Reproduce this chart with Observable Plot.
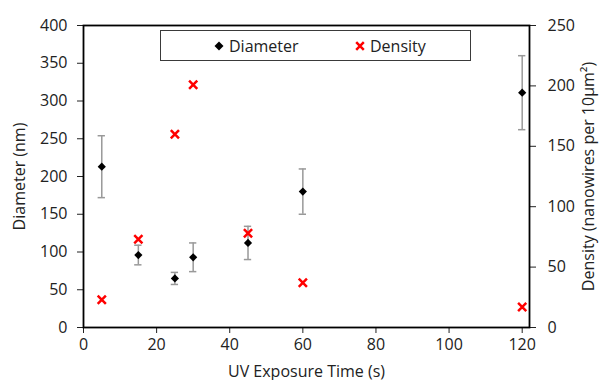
<!DOCTYPE html>
<html>
<head>
<meta charset="utf-8">
<script src="https://cdn.jsdelivr.net/npm/d3@7"></script>
<script src="https://cdn.jsdelivr.net/npm/@observablehq/plot@0.6"></script>
<style>
  body { margin: 0; background: #fff; }
  #wrap { position: relative; width: 603px; height: 380px; font-family: "Open Sans", sans-serif; }
  #legend {
    position: absolute; left: 160px; top: 30px; width: 311px; height: 31px;
    box-sizing: border-box; border: 1.5px solid #3a3a3a; background: #fff;
    display: flex; align-items: center; font-size: 16px; color: #222;
  }
  .item { display: flex; align-items: center; position: absolute; }
  .item svg { margin-right: 4px; }
</style>
</head>
<body>
<div id="wrap">
  <div id="chart"></div>
  <div id="legend">
    <div class="item" style="left:52px"><svg width="12" height="12" viewBox="-6 -6 12 12"><path d="M0,-4.5L4.5,0L0,4.5L-4.5,0Z" fill="#000"/></svg><span>Diameter</span></div>
    <div class="item" style="left:193px"><svg width="12" height="12" viewBox="-6 -6 12 12"><path d="M-3.8,-3.8L3.8,3.8M-3.8,3.8L3.8,-3.8" stroke="#ff0000" stroke-width="2.5"/></svg><span>Density</span></div>
  </div>
</div>
<script>
// Data
const timeS = [5, 15, 25, 30, 45, 60, 120];
const diameterNm = [213, 96, 65, 93, 112, 180, 311];
const diameterErr = [41, 13, 8, 19, 22, 30, 49];
const densityPer10um2 = [23, 73, 160, 201, 78, 37, 17];

const xTicks = [0, 20, 40, 60, 80, 100, 120];
const leftTicks = [0, 50, 100, 150, 200, 250, 300, 350, 400];
const rightTicks = [0, 50, 100, 150, 200, 250];

const leftMax = 400, rightMax = 250;
const k = leftMax / rightMax;

const rows = timeS.map((t, i) => ({
  t,
  d: diameterNm[i],
  lo: diameterNm[i] - diameterErr[i],
  hi: diameterNm[i] + diameterErr[i],
  dens: densityPer10um2[i] * k
}));
const caps = rows.flatMap(r => [{t: r.t, y: r.lo}, {t: r.t, y: r.hi}]);

const chart = Plot.plot({
  width: 603,
  height: 380,
  marginLeft: 83,
  marginRight: 74,
  marginTop: 25,
  marginBottom: 53,
  style: { fontFamily: "Open Sans", fontSize: "16px", color: "#222", background: "transparent" },
  x: { domain: [0, 122] },
  y: { domain: [0, leftMax] },
  marks: [
    Plot.axisX({ ticks: xTicks, tickSize: 6, tickPadding: 5, label: "UV Exposure Time (s)", labelAnchor: "center", labelArrow: "none", labelOffset: 49, fontSize: 16 }),
    Plot.axisY({ ticks: leftTicks, tickSize: 6, tickPadding: 10, label: "Diameter (nm)", labelAnchor: "center", labelArrow: "none", labelOffset: 70, fontSize: 16 }),
    Plot.axisY(rightTicks.map(v => v * k), { anchor: "right", tickSize: 6, tickPadding: 12, tickFormat: v => String(Math.round(v / k)), label: "Density (nanowires per 10μm²)", labelAnchor: "center", labelArrow: "none", labelOffset: 64, fontSize: 16 }),
    Plot.frame({ stroke: "#000", strokeWidth: 1.8 }),
    Plot.ruleX(rows, { x: "t", y1: "lo", y2: "hi", stroke: "#999", strokeWidth: 1.5 }),
    Plot.ruleY(caps, { y: "y", x1: d => d.t - 1, x2: d => d.t + 1, stroke: "#999", strokeWidth: 1.5 }),
    Plot.dot(rows, { x: "t", y: "d", symbol: "diamond2", r: 3.7, fill: "#000", stroke: "none" }),
    Plot.dot(rows, { x: "t", y: "dens", symbol: "times", r: 3.8, stroke: "#ff0000", strokeWidth: 2.5 })
  ]
});
document.getElementById("chart").appendChild(chart);
</script>
</body>
</html>
